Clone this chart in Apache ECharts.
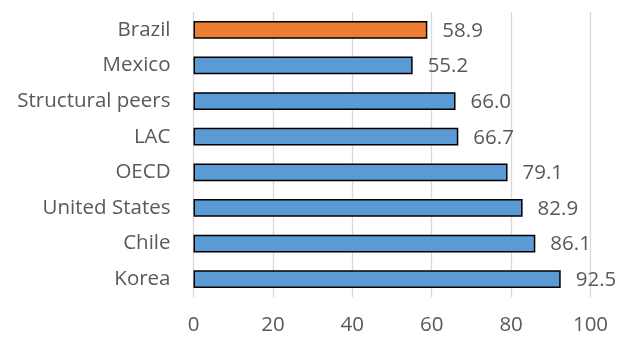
<!DOCTYPE html>
<html>
<head>
<meta charset="utf-8">
<script src="https://cdn.jsdelivr.net/npm/echarts@6/dist/echarts.min.js"></script>
<style>
  html, body { margin: 0; padding: 0; background: #fff; }
  #chart { width: 618px; height: 343px; }
</style>
</head>
<body>
<div id="chart"></div>
<script>
// Countries, listed top to bottom
const categories = ['Brazil', 'Mexico', 'Structural peers', 'LAC', 'OECD', 'United States', 'Chile', 'Korea'];
const values = [58.9, 55.2, 66.0, 66.7, 79.1, 82.9, 86.1, 92.5];
const highlighted = 'Brazil';

const FONT = '"Open Sans", sans-serif';
const TEXT = '#595959';
const SIZE = 20.5;

const chart = echarts.init(document.getElementById('chart'), null, { renderer: 'canvas' });

chart.setOption({
  animation: false,
  grid: { left: 193.5, right: 27.5, top: 12, bottom: 46, containLabel: false },
  xAxis: {
    type: 'value',
    min: 0, max: 100, interval: 20,
    axisLine: { show: false },
    axisTick: { show: false },
    splitLine: { show: true, lineStyle: { color: '#d9d9d9', width: 1.3 } },
    axisLabel: { color: TEXT, fontFamily: FONT, fontSize: SIZE, margin: 18 }
  },
  yAxis: {
    type: 'category',
    data: categories,
    inverse: true,
    axisLine: { show: false },
    axisTick: { show: false },
    axisLabel: { color: TEXT, fontFamily: FONT, fontSize: SIZE, margin: 23 }
  },
  series: [{
    type: 'bar',
    barWidth: '50%',
    data: values.map((v, i) => ({
      value: v,
      itemStyle: { color: categories[i] === highlighted ? '#ED7D31' : '#5B9BD5' }
    })),
    itemStyle: { borderColor: '#000', borderWidth: 1.5 },
    label: {
      show: true,
      position: 'right',
      distance: 15,
      offset: [0, 1],
      color: TEXT,
      fontFamily: FONT,
      fontSize: SIZE,
      formatter: p => p.value.toFixed(1)
    }
  }]
});
</script>
</body>
</html>
